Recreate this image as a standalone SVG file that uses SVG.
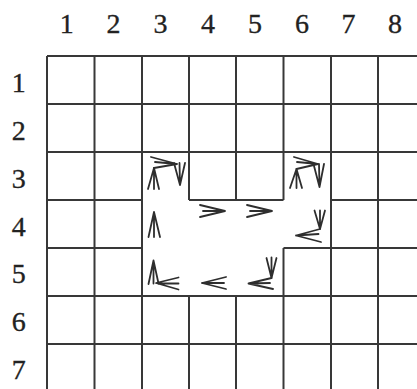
<svg xmlns="http://www.w3.org/2000/svg" width="417" height="389" viewBox="0 0 417 389">
<style>
.lbl{font-family:"Liberation Serif","Times New Roman",serif;font-size:28px;fill:#222;stroke:#222;stroke-width:0.35;text-anchor:middle}
.grid line{stroke:#383838;stroke-width:2}
.arr{fill:none;stroke:#2e2e2e;stroke-width:1.8;stroke-linecap:round;stroke-linejoin:round}
</style>
<rect width="417" height="389" fill="#ffffff"/>
<g id="col-labels">
<text class="lbl" x="66.7" y="32.5">1</text>
<text class="lbl" x="113.5" y="32.5">2</text>
<text class="lbl" x="160.5" y="32.5">3</text>
<text class="lbl" x="208" y="32.5">4</text>
<text class="lbl" x="255" y="32.5">5</text>
<text class="lbl" x="302" y="32.5">6</text>
<text class="lbl" x="348.5" y="32.5">7</text>
<text class="lbl" x="395" y="32.5">8</text>
</g>
<g id="row-labels">
<text class="lbl" x="18.7" y="92">1</text>
<text class="lbl" x="18.7" y="140">2</text>
<text class="lbl" x="18.7" y="187.5">3</text>
<text class="lbl" x="18.7" y="235.5">4</text>
<text class="lbl" x="18.7" y="283">5</text>
<text class="lbl" x="18.7" y="331">6</text>
<text class="lbl" x="18.7" y="378.5">7</text>
</g>
<g id="grid" class="grid">
<line x1="47" y1="56" x2="47" y2="389"/>
<line x1="94.5" y1="56" x2="94.5" y2="389"/>
<line x1="142" y1="56" x2="142" y2="389"/>
<line x1="189" y1="56" x2="189" y2="200"/>
<line x1="189" y1="296" x2="189" y2="389"/>
<line x1="236" y1="56" x2="236" y2="200"/>
<line x1="236" y1="296" x2="236" y2="389"/>
<line x1="283.5" y1="56" x2="283.5" y2="200"/>
<line x1="283.5" y1="248" x2="283.5" y2="389"/>
<line x1="331" y1="56" x2="331" y2="389"/>
<line x1="378" y1="56" x2="378" y2="389"/>
<line x1="47" y1="56" x2="417" y2="56"/>
<line x1="47" y1="104" x2="417" y2="104"/>
<line x1="47" y1="152" x2="417" y2="152"/>
<line x1="47" y1="200" x2="142" y2="200"/>
<line x1="189" y1="200" x2="283.5" y2="200"/>
<line x1="331" y1="200" x2="417" y2="200"/>
<line x1="47" y1="248" x2="142" y2="248"/>
<line x1="283.5" y1="248" x2="417" y2="248"/>
<line x1="47" y1="296" x2="417" y2="296"/>
<line x1="47" y1="344" x2="417" y2="344"/>
</g>
<g id="connectors">
<g id="arrows-c3r3" class="arr">
<path d="M148,189 L154,168 L159,189 M154,189 L154,168"/>
<path d="M151,157 L177,164 L154,168 M155,162 L177,164"/>
<path d="M174,163 L180,185 L185,163 M179.5,163 L180,185"/>
</g>
<g id="arrows-c6r3" class="arr">
<path d="M290,188 L296.5,169 L302,188 M296.5,188 L296.5,169"/>
<path d="M294,157 L318,164 L296.5,169 M297,162 L318,164"/>
<path d="M313.5,164 L319.5,187 L324,164 M319,164 L319.5,187"/>
</g>
<g id="arrows-c3r4" class="arr">
<path d="M148.5,237 L154,212 L160,237 M154,237 L154,212"/>
</g>
<g id="arrows-c4r4" class="arr">
<path d="M200,205 L225,211 L200,217 M203,211 L225,211"/>
</g>
<g id="arrows-c5r4" class="arr">
<path d="M247,205 L272,211 L247,217 M250,211 L272,211"/>
</g>
<g id="arrows-c6r4" class="arr">
<path d="M314.5,210.5 L320,229 L325,210.5 M320,210.5 L320,229"/>
<path d="M320,229 L296,235.5 L321,242 M318.5,234 L296,235.5"/>
</g>
<g id="arrows-c5r5" class="arr">
<path d="M266.5,258 L271.5,278 L276.5,258 M271.5,257.5 L271.5,278"/>
<path d="M271.5,278 L248.5,283.5 L273,289 M270,283 L248.5,283.5"/>
</g>
<g id="arrows-c4r5" class="arr">
<path d="M226,277 L202,283 L226,289 M224,283 L202,283"/>
</g>
<g id="arrows-c3r5" class="arr">
<path d="M148.5,284 L153.5,260.5 L158.5,283.5 M153.5,283.5 L153.5,260.5"/>
<path d="M178.5,277.5 L156,283 L178.5,289.5 M178.5,283.5 L159,283.5"/>
</g>
</g>
</svg>
